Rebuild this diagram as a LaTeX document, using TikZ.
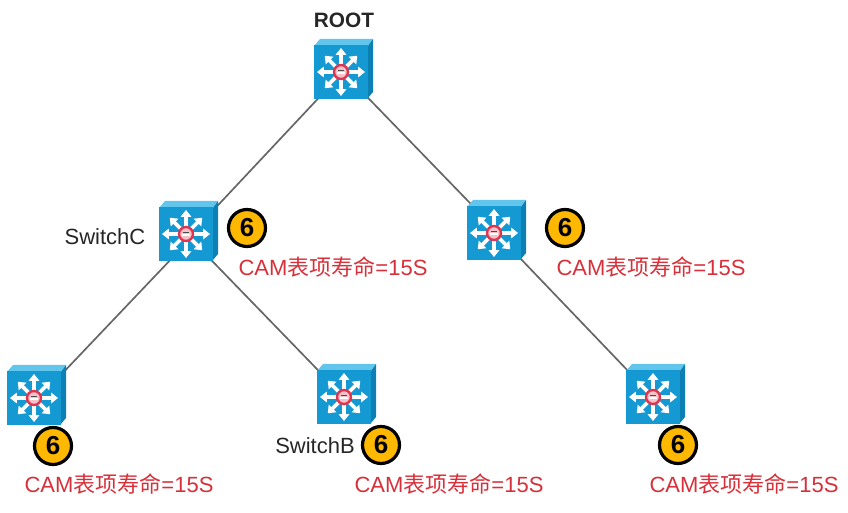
\documentclass[tikz,border=0pt]{standalone}
\usepackage{fontspec}
\setmainfont{Liberation Sans}
\newfontfamily\cjk{Noto Sans CJK SC}
\usetikzlibrary{arrows.meta, backgrounds}
\definecolor{swfront}{HTML}{1499D3}
\definecolor{swtop}{HTML}{62C6EC}
\definecolor{swside}{HTML}{0C7FB4}
\definecolor{swred}{HTML}{E0354F}
\definecolor{camred}{HTML}{D7303A}
\definecolor{badgefill}{HTML}{FFB800}
\definecolor{linkgray}{HTML}{666666}
\tikzset{
	swbody/.style={rectangle, fill=swfront, minimum size=27pt, inner sep=0pt},
	swarrow/.style={white, line width=1.8pt, -{Triangle[length=3.4pt, width=5.2pt]}},
	link/.style={draw=linkgray, line width=0.85pt},
	badge/.style={circle, fill=badgefill, draw=black, line width=1.6pt, minimum size=18.5pt, inner sep=0pt, font=\fontsize{13}{13}\selectfont\bfseries},
	camlabel/.style={text=camred, inner sep=0pt, font=\fontsize{11}{13}\selectfont},
	namelabel/.style={text=black!85, inner sep=0pt, font=\fontsize{11}{13}\selectfont},
	switchicon/.pic={
		\fill [swtop] (-27,-26) -- (-21,-33) -- (32,-33) -- (27,-26) -- cycle;
		\fill [swside] (27,-26) -- (32,-33) -- (32,20) -- (27,26) -- cycle;
		\node [swbody] (-body) at (0,0) {};
		\foreach \a in {0,90,180,270}
			\draw [swarrow] (\a:6) -- (\a:24);
		\foreach \a in {45,135,225,315}
			\draw [swarrow] (\a:6) -- (\a:23);
		\filldraw [fill=white!70!swred, draw=swred, line width=1.2pt] (0,0) circle (7);
		\draw [white, line width=1pt] (-4,1) -- (4,1);
		\draw [black!70, line width=0.6pt] (-3,-1.5) -- (3,-1.5);
	}
}

\begin{document}
\begin{tikzpicture}[x=0.5pt, y=-0.5pt]
\useasboundingbox (0,0) rectangle (848,513);

%Switches
\pic (root) at (341,72) {switchicon};
\pic (swc) at (186,234) {switchicon};
\pic (swd) at (494,233) {switchicon};
\pic (swa) at (34,398) {switchicon};
\pic (swb) at (344,397) {switchicon};
\pic (swe) at (653,397) {switchicon};

%Links
\begin{pgfonlayer}{background}
\draw [link] ([xshift=1pt]root-body.center) -- ([xshift=2.5pt]swc-body.center);
\draw [link] ([xshift=1pt]root-body.center) -- ([xshift=2.5pt]swd-body.center);
\draw [link] ([xshift=4.5pt]swc-body.center) -- ([xshift=2.5pt]swa-body.center);
\draw [link] (swc-body.center) -- (swb-body.center);
\draw [link] ([xshift=1pt]swd-body.center) -- (swe-body.center);
\end{pgfonlayer}

%Names
\node [namelabel, font=\fontsize{10.4}{13}\selectfont\bfseries] (rootname) at (344,20) {ROOT};
\node [namelabel] (swcname) at (105,237) {SwitchC};
\node [namelabel] (swbname) at (315,446) {SwitchB};

%Counters & Labels
\foreach \n/\x/\y in {c/247/228,d/565/228,a/53/446,b/381/445,e/678/445}
	\node [badge] (badge\n) at (\x,\y) {6};
\foreach \n/\x/\y in {c/333/267,d/651/267,a/119/484,b/449/484,e/744/484}
	\node [camlabel] (cam\n) at (\x,\y) {CAM{\cjk 表项寿命}=15S};

\end{tikzpicture}
\end{document}
